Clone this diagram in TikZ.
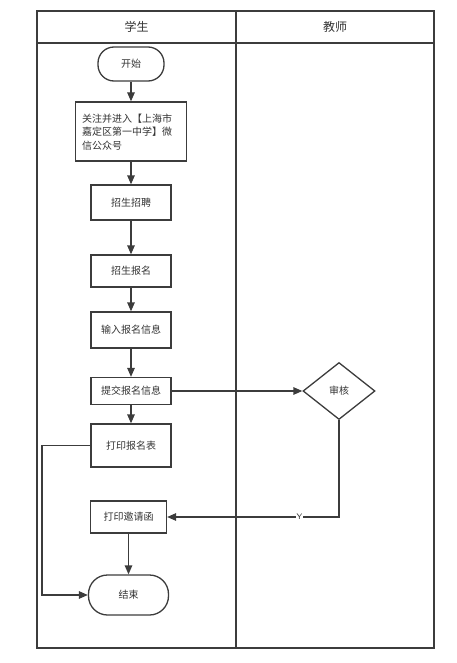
\documentclass[tikz,border=0pt]{standalone}
\usepackage{fontspec}
\newfontfamily\cjk{Noto Sans CJK SC}
\usetikzlibrary{arrows.meta,shapes.geometric}
\definecolor{ln}{HTML}{3C3C3C}
\definecolor{tx}{HTML}{333333}
\tikzset{
  frame/.style={draw=ln,line width=1.3pt},
  proc/.style={draw=ln,line width=1.3pt,rectangle,inner sep=0pt,font=\cjk\fontsize{10}{12}\selectfont,text=tx,align=center},
  term/.style={proc,rounded corners=16pt},
  decis/.style={draw=ln,line width=1.3pt,diamond,inner sep=0pt,font=\cjk\fontsize{10}{12}\selectfont,text=tx,aspect=1.26},
  flow/.style={draw=ln,line width=1.3pt,-{Triangle[length=9pt,width=7.5pt]}},
  hdr/.style={font=\cjk\fontsize{12}{14}\selectfont,text=tx}
}
\begin{document}
\begin{tikzpicture}[x=1pt,y=-1pt]
\useasboundingbox (0,0) rectangle (457,663);
% lanes
\draw[frame] (37,11) rectangle (434,648);
\draw[frame] (37,43) -- (434,43);
\draw[frame] (236,11) -- (236,648);
\node[hdr] (h1) at (136.5,27) {学生};
\node[hdr] (h2) at (335,27) {教师};
% nodes
\node[term,minimum width=66pt,minimum height=34pt] (start) at (131,64) {开始};
\node[proc,minimum width=111pt,minimum height=59pt] (b1) at (131,131.5) {};
\node[font=\cjk\fontsize{10}{13.5}\selectfont,text=tx,align=left,anchor=west,inner sep=0pt] (b1t) at (82,132) {关注并进入【上海市\\嘉定区第一中学】微\\信公众号};
\node[proc,minimum width=80pt,minimum height=35pt] (b2) at (131,202.5) {招生招聘};
\node[proc,minimum width=80pt,minimum height=32pt] (b3) at (131,271) {招生报名};
\node[proc,minimum width=80pt,minimum height=36pt] (b4) at (131,330) {输入报名信息};
\node[proc,minimum width=80pt,minimum height=27pt] (b5) at (131,391) {提交报名信息};
\node[proc,minimum width=80pt,minimum height=43pt] (b6) at (131,445.5) {打印报名表};
\node[proc,minimum width=76pt,minimum height=32pt] (b7) at (128.5,517) {打印邀请函};
\node[term,minimum width=80pt,minimum height=40pt,rounded corners=19pt] (end) at (128.5,595) {结束};
\node[decis,minimum width=72pt,minimum height=57pt] (d) at (339,391) {审核};
\coordinate (c1) at (339,517);
\coordinate (c2) at (42,445.5);
\coordinate (c3) at (42,595);
% connectors
\draw[flow] (start) -- (b1);
\draw[flow] (b1) -- (b2);
\draw[flow] (b2) -- (b3);
\draw[flow] (b3) -- (b4);
\draw[flow] (b4) -- (b5);
\draw[flow] (b5) -- (b6);
\draw[flow] (b5.east) -- (d.west);
\draw[flow] (d.south) -- (c1) -- (b7.east) node[pos=0.23,fill=white,inner sep=1pt,font=\sffamily\fontsize{8}{9}\selectfont,text=tx] (ylab) {Y};
\draw[flow] (b7) -- (end);
\draw[flow] (b6.west) -- (c2) -- (c3) -- (end.west);
\end{tikzpicture}
\end{document}
